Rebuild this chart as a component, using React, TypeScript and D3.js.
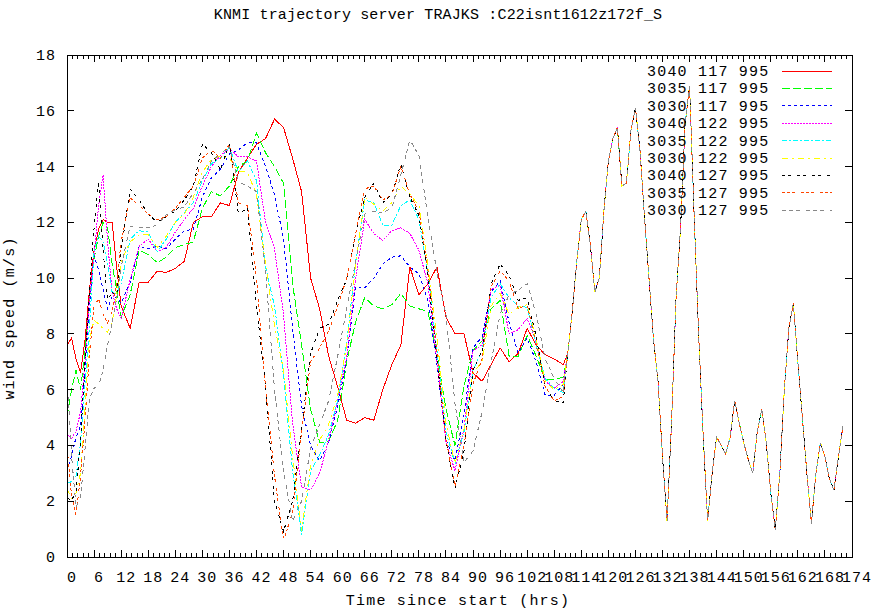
import React from "react";
import * as d3 from "d3";

// ---------- data ----------
// Hours at which the per-series values are given (hourly 0..12, then every 2 h up to 110)
const hoursEarly: number[] = d3.range(0, 13).concat(d3.range(14, 111, 2));
// Hours of the shared tail, where all trajectories coincide (hourly 111..172)
const hoursTail: number[] = d3.range(111, 173);

const seriesLabels = [
  "3040 117 995",
  "3035 117 995",
  "3030 117 995",
  "3040 122 995",
  "3035 122 995",
  "3030 122 995",
  "3040 127 995",
  "3035 127 995",
  "3030 127 995",
];

// values for hoursEarly
const s3040_117 = [7.6, 7.85, 7.1, 6.6, 7.8, 9.6, 11.0, 11.75, 12.1, 12.0, 12.0, 10.4, 9.0,
  8.2, 9.85, 9.85, 10.25, 10.2, 10.35, 10.6, 12.0, 12.2, 12.2, 12.7, 12.6, 13.8, 14.3, 14.8, 15.0, 15.7, 15.4,
  14.3, 13.1, 10.0, 8.9, 7.2, 6.1, 4.9, 4.8, 5.0, 4.9, 6.0, 6.9, 7.6, 10.4, 9.4, 9.8, 10.4, 8.6, 8.0, 8.0,
  6.6, 6.3, 6.9, 7.5, 7.0, 7.3, 8.2, 7.6, 7.25, 7.1, 6.9];
const s3035_117 = [5.0, 6.0, 6.7, 6.0, 7.4, 9.2, 10.7, 11.5, 12.0, 11.8, 10.5, 9.6, 8.6,
  9.4, 11.0, 10.85, 10.55, 10.75, 11.1, 11.2, 11.3, 12.5, 13.1, 12.95, 13.3, 14.0, 14.2, 15.2, 14.5, 14.0, 13.4,
  9.8, 7.6, 5.3, 4.1, 4.15, 4.9, 7.0, 8.45, 9.3, 9.0, 8.9, 9.05, 9.45, 9.0, 8.9, 8.8, 7.3, 5.3, 4.0, 6.15,
  7.4, 7.75, 8.9, 9.2, 7.2, 7.2, 7.95, 7.2, 6.35, 6.35, 6.45];
const s3030_117 = [3.1, 3.6, 4.3, 4.7, 6.75, 9.1, 10.8, 10.3, 9.6, 8.9, 9.35, 9.3, 9.1,
  9.85, 11.15, 11.05, 11.15, 11.05, 11.4, 11.7, 11.75, 12.9, 13.6, 13.9, 14.45, 14.6, 14.85, 14.85, 14.0, 13.0, 11.4,
  8.2, 5.4, 4.0, 3.45, 4.1, 5.4, 7.1, 9.7, 9.65, 10.0, 10.5, 10.75, 10.8, 10.4, 10.15, 9.2, 6.9, 4.2, 3.45, 5.1,
  7.5, 7.9, 9.5, 9.9, 8.4, 7.3, 7.85, 7.0, 5.8, 5.8, 6.2];
const s3040_122 = [4.4, 4.25, 4.5, 5.2, 7.0, 9.3, 10.8, 12.6, 13.7, 11.3, 9.5, 8.9, 8.55,
  9.95, 11.15, 11.4, 10.95, 11.1, 11.65, 12.1, 12.5, 13.3, 14.0, 14.4, 14.65, 14.35, 14.35, 14.2, 12.0, 11.05, 8.7,
  4.8, 2.5, 2.4, 3.0, 4.2, 5.6, 7.2, 10.0, 12.1, 11.6, 11.35, 11.7, 11.8, 11.6, 11.0, 9.8, 7.0, 4.1, 3.1, 4.6,
  7.4, 7.6, 9.6, 9.75, 8.0, 8.15, 8.55, 7.7, 6.3, 6.05, 6.3];
const s3035_122 = [2.65, 2.7, 2.9, 4.1, 6.2, 8.3, 11.0, 11.5, 11.3, 10.5, 9.5, 9.45, 9.8,
  11.4, 11.7, 11.65, 10.95, 11.4, 12.0, 12.35, 12.7, 13.5, 14.1, 14.3, 14.7, 13.8, 14.2, 13.5, 10.4, 9.0, 6.5,
  3.1, 0.8, 3.1, 3.65, 4.4, 5.6, 7.7, 10.6, 12.8, 12.7, 11.9, 11.9, 12.6, 12.8, 12.1, 10.2, 7.4, 4.5, 3.35, 4.5,
  6.7, 7.4, 9.3, 9.8, 9.3, 9.0, 8.95, 7.6, 6.4, 6.05, 5.9];
const s3030_122 = [2.45, 2.1, 2.3, 3.0, 5.4, 7.8, 8.5, 8.35, 8.2, 8.06, 8.4, 9.4, 10.6,
  11.3, 11.55, 11.55, 11.1, 11.5, 12.0, 12.3, 12.9, 13.8, 14.25, 14.37, 14.3, 13.85, 13.8, 13.0, 10.5, 8.3, 6.7,
  3.6, 0.95, 3.3, 4.2, 4.75, 5.8, 7.6, 10.5, 12.9, 12.65, 12.4, 12.7, 13.3, 13.0, 12.6, 10.5, 7.9, 4.8, 3.35, 4.6,
  6.6, 7.0, 9.0, 9.45, 8.7, 8.95, 9.05, 7.8, 6.3, 6.0, 6.2];
const s3040_127 = [2.1, 2.05, 2.3, 4.2, 7.0, 9.6, 11.8, 13.5, 11.0, 9.2, 9.5, 9.37, 11.0,
  13.2, 12.8, 12.3, 12.0, 12.2, 12.4, 12.8, 13.3, 14.8, 14.5, 13.9, 14.8, 12.3, 12.5, 9.0, 6.15, 2.0, 0.92,
  2.0, 4.6, 7.3, 8.2, 8.35, 9.2, 9.95, 11.6, 12.9, 13.4, 12.7, 13.0, 14.1, 12.9, 12.25, 10.1, 7.1, 4.2, 2.45, 3.8,
  6.7, 7.4, 9.8, 10.5, 10.1, 9.2, 9.3, 7.9, 6.1, 5.6, 5.55];
const s3035_127 = [4.0, 2.2, 1.5, 2.9, 4.9, 7.3, 9.0, 9.25, 8.7, 8.4, 8.8, 9.85, 11.3,
  12.88, 12.6, 12.3, 12.1, 12.2, 12.5, 12.9, 13.3, 14.3, 14.6, 14.3, 14.8, 12.7, 12.6, 10.0, 6.1, 2.9, 0.6,
  1.6, 4.5, 7.0, 7.5, 8.1, 9.0, 10.0, 11.6, 13.2, 13.3, 12.8, 13.0, 14.0, 13.0, 12.4, 10.3, 7.3, 4.2, 2.55, 4.0,
  6.2, 7.1, 9.7, 10.25, 9.9, 8.9, 9.05, 7.6, 6.1, 5.6, 5.75];
const s3030_127 = [6.6, 3.65, 1.8, 2.1, 3.9, 5.7, 6.05, 6.15, 6.7, 7.6, 8.4, 9.25, 10.4,
  11.87, 11.82, 11.8, 11.9, 12.27, 12.45, 12.55, 13.05, 13.55, 14.2, 14.45, 14.7, 13.45, 13.3, 13.1, 10.3, 6.0, 3.06,
  1.3, 2.0, 3.9, 4.75, 5.6, 7.2, 8.9, 10.6, 12.3, 12.4, 12.35, 12.5, 13.7, 14.96, 14.4, 12.2, 10.2, 8.7, 5.5, 3.4,
  3.8, 5.2, 7.0, 8.7, 9.4, 9.57, 9.8, 8.7, 7.1, 6.4, 5.9];

// shared tail (hoursTail)
const commonTail = [7.3, 8.8, 10.6, 12.1, 12.4, 11.2, 9.5, 10.0, 12.4, 14.2, 15.0, 15.4, 13.3, 13.4, 15.3, 16.1,
  14.6, 12.2, 10.0, 7.8, 6.3, 3.6, 1.3, 4.8, 9.3, 11.8, 15.5, 16.9, 12.3, 8.0, 4.4, 1.3, 3.0, 4.3, 4.0, 3.7,
  4.3, 5.6, 4.8, 4.1, 3.5, 3.0, 4.5, 5.3, 4.1, 2.3, 0.97, 3.0, 6.0, 8.2, 9.1, 7.0, 5.0, 3.0, 1.2, 3.0,
  4.1, 3.6, 2.8, 2.4, 3.6, 4.7];

const seriesValues = [s3040_117, s3035_117, s3030_117, s3040_122, s3035_122, s3030_122, s3040_127, s3035_127, s3030_127];

const xTicks: number[] = d3.range(0, 175, 6);
const yTicks: number[] = d3.range(0, 19, 2);

// ---------- styles ----------
const colors = ["#ff0000", "#00ff00", "#0000ff", "#ff00ff", "#00ffff", "#ffff00", "#000000", "#ff4500", "#888888"];
const dashes = ["none", "8,3", "3,3", "2,1", "5,2,2,2", "6,4,2,4", "3,3,3,6", "3,2,3,2,3,6", "4,3,4,3,4,6"];

const W = 877, H = 608;
const L = 67, R = 852, T = 55, B = 557;
const FONT = "'Liberation Mono', 'DejaVu Sans Mono', monospace";

export default function App() {
  const x = d3.scaleLinear().domain([0, 174]).range([L, R]);
  const y = d3.scaleLinear().domain([0, 18]).range([B, T]);
  const hours = hoursEarly.concat(hoursTail);
  const line = d3.line<[number, number]>().x((d) => x(d[0])).y((d) => y(d[1]));

  const minor = d3.range(0, 174.01, 1.2).filter((h) => Math.abs(h / 6 - Math.round(h / 6)) > 1e-6);

  return (
    <svg width={W} height={H} style={{ position: "absolute", left: 0, top: 0, background: "#fff" }}
      fontFamily={FONT}>
      <rect x={0} y={0} width={W} height={H} fill="#fff" />
      <text x={438} y={19} textAnchor="middle" fontSize={15} letterSpacing={0.15} fill="#000">
        KNMI trajectory server TRAJKS :C22isnt1612z172f_S
      </text>

      <defs>
        <clipPath id="clip"><rect x={L} y={T} width={R - L} height={B - T} /></clipPath>
      </defs>

      {/* series */}
      <g clipPath="url(#clip)">
        {seriesValues.map((vals, i) => {
          const pts: [number, number][] = hours.map((h, k) => [h, k < vals.length ? vals[k] : commonTail[k - vals.length]]);
          return (
            <path key={i} d={line(pts) || ""} fill="none" stroke={colors[i]} strokeWidth={1}
              strokeDasharray={dashes[i]} shapeRendering="optimizeSpeed" />
          );
        })}
      </g>

      {/* frame */}
      <rect x={L} y={T} width={R - L} height={B - T} fill="none" stroke="#000" strokeWidth={1} shapeRendering="crispEdges" />

      {/* ticks */}
      <g stroke="#000" shapeRendering="crispEdges">
        {xTicks.map((t) => (
          <g key={"xt" + t}>
            <line x1={x(t)} x2={x(t)} y1={B} y2={B - 7} />
            <line x1={x(t)} x2={x(t)} y1={T} y2={T + 7} />
          </g>
        ))}
        {minor.map((t, i) => (
          <g key={"xm" + i}>
            <line x1={x(t)} x2={x(t)} y1={B} y2={B - 4} />
            <line x1={x(t)} x2={x(t)} y1={T} y2={T + 4} />
          </g>
        ))}
        {yTicks.map((t) => (
          <g key={"yt" + t}>
            <line x1={L} x2={L + 7} y1={y(t)} y2={y(t)} />
            <line x1={R} x2={R - 7} y1={y(t)} y2={y(t)} />
          </g>
        ))}
      </g>

      {/* tick labels */}
      <g fontSize={15} fill="#000">
        {xTicks.map((t) => (
          <text key={"xl" + t} x={x(t) + 5} y={582} textAnchor="middle" letterSpacing={1}>{t}</text>
        ))}
        {yTicks.map((t) => (
          <text key={"yl" + t} x={56} y={y(t) + 5} textAnchor="end" letterSpacing={1}>{t}</text>
        ))}
      </g>

      {/* axis titles */}
      <text x={458} y={605} textAnchor="middle" fontSize={15} letterSpacing={1.2}>Time since start (hrs)</text>
      <text transform={`translate(14,318) rotate(-90)`} textAnchor="middle" fontSize={15} letterSpacing={1.2}>
        wind speed (m/s)
      </text>

      {/* legend */}
      <g fontSize={15}>
        {seriesLabels.map((s, i) => {
          const ly = 71 + i * 17.4;
          return (
            <g key={"lg" + i}>
              <text x={647} y={ly + 5} letterSpacing={1.2} fill="#000">{s}</text>
              <line x1={782} x2={832} y1={ly} y2={ly} stroke={colors[i]} strokeDasharray={dashes[i]}
                shapeRendering="crispEdges" />
            </g>
          );
        })}
      </g>
    </svg>
  );
}
